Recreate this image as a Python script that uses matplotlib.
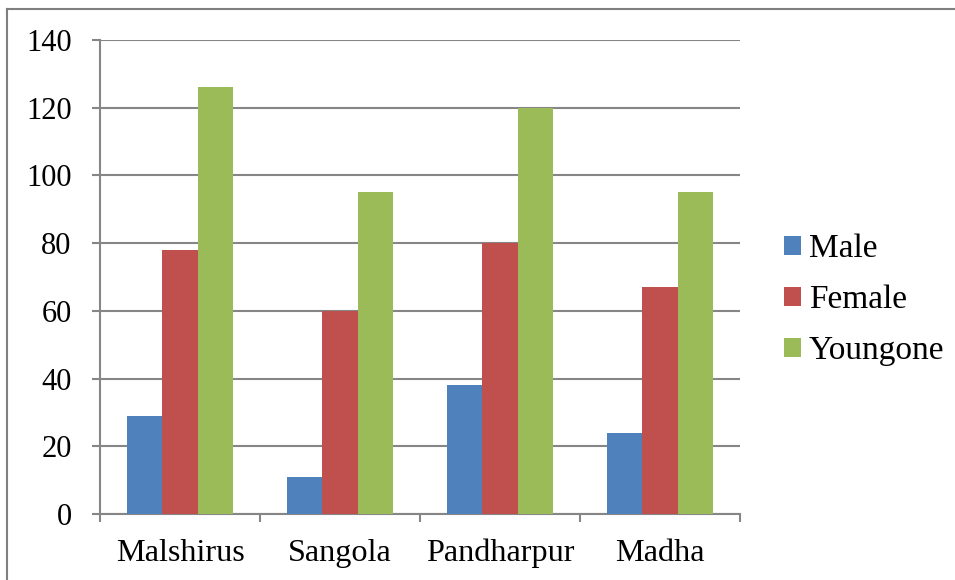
import matplotlib
matplotlib.use("Agg")
import matplotlib.pyplot as plt
import numpy as np
from matplotlib.lines import Line2D

categories = ["Malshirus", "Sangola", "Pandharpur", "Madha"]
male = [29, 11, 38, 24]
female = [78, 60, 80, 67]
youngone = [126, 95, 120, 95]
series_names = ["Male", "Female", "Youngone"]
series_colors = ["#4F81BD", "#C0504D", "#9BBB59"]
y_ticks = [0, 20, 40, 60, 80, 100, 120, 140]

plt.rcParams["font.family"] = ["Liberation Serif", "DejaVu Serif"]
W, H = 955, 580
fig = plt.figure(figsize=(W / 100, H / 100), dpi=100)
ax = fig.add_axes([100 / W, 1 - 514 / H, 640 / W, 474 / H])

x = np.arange(len(categories))
bw = 0.222
for i, (vals, name, col) in enumerate(zip([male, female, youngone], series_names, series_colors)):
    ax.bar(x + (i - 1) * bw, vals, width=bw, color=col, label=name, zorder=3)

ax.set_xlim(-0.5, len(categories) - 0.5)
ax.set_ylim(0, 140)
ax.set_yticks(y_ticks)
ax.set_yticklabels([str(t) for t in y_ticks])
grid_col = "#868686"
ax.yaxis.grid(True, color=grid_col, linewidth=1.5, zorder=0)
ax.set_axisbelow(True)

# category boundaries carry the tick marks, labels sit at the centres
ax.set_xticks(np.arange(len(categories) + 1) - 0.5)
ax.set_xticklabels([""] * (len(categories) + 1))
ax.set_xticks(x, minor=True)
ax.set_xticklabels(categories, minor=True)
ax.tick_params(axis="x", which="major", length=6, width=1.5, color=grid_col, direction="out")
ax.tick_params(axis="x", which="minor", length=0, pad=18, labelsize=23.2)
ax.tick_params(axis="y", length=5.5, width=1.5, color=grid_col, pad=15, labelsize=22)

for side in ["top", "right"]:
    ax.spines[side].set_visible(False)
for side in ["left", "bottom"]:
    ax.spines[side].set_color(grid_col)
    ax.spines[side].set_linewidth(1.5)

fig.legend(loc="center left", bbox_to_anchor=(784 / W, 1 - 300 / H), frameon=False,
           fontsize=24, handlelength=0.5, handleheight=0.5, handletextpad=0.24,
           labelspacing=0.62, borderpad=0, borderaxespad=0)

# outer frame of the chart area
fig.add_artist(Line2D([7 / W, 7 / W], [0, 1 - 9 / H], transform=fig.transFigure,
                      color="#7f7f7f", linewidth=1.5))
fig.add_artist(Line2D([7 / W, 1], [1 - 9 / H, 1 - 9 / H], transform=fig.transFigure,
                      color="#7f7f7f", linewidth=1.5))

fig.savefig("out.png", dpi=100, facecolor="white")
